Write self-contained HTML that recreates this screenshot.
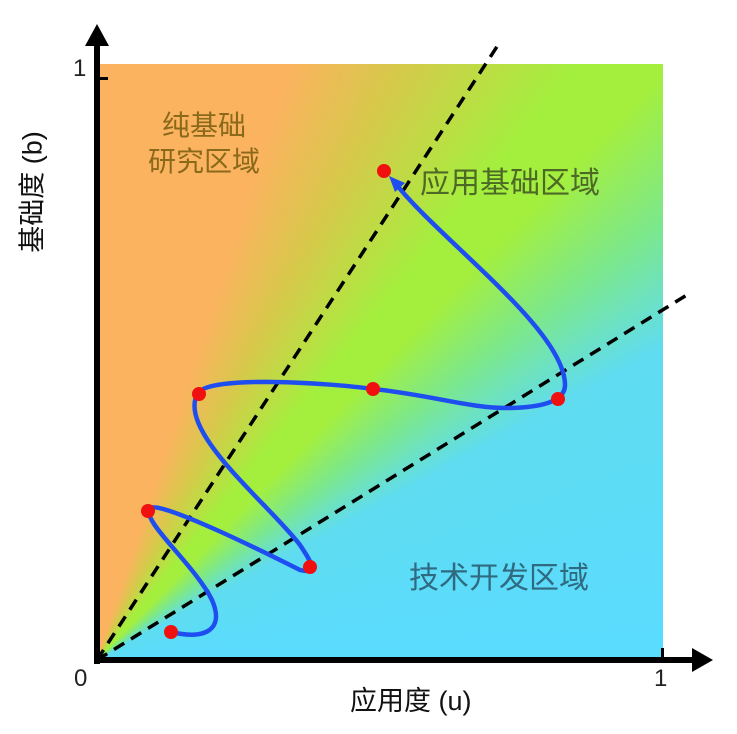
<!DOCTYPE html>
<html><head><meta charset="utf-8"><style>
body{margin:0;width:737px;height:734px;background:#fff;position:relative;overflow:hidden;font-family:"Liberation Sans","Noto Sans CJK SC",sans-serif}
#bg{position:absolute;left:97px;top:64px;width:566px;height:596px;
background:conic-gradient(from 0deg at 0px 596px,#fbb35f 0deg,#fbb35f 18deg,#d6c94a 27deg,#a4ef3e 39deg,#a4ef3e 44deg,#7de88a 52deg,#5fdcf0 61deg,#5adcff 90deg);}
.t{position:absolute;white-space:nowrap}
</style></head><body>
<div id="bg"></div>
<div class="t" style="left:162px;top:108px;font-size:28px;color:#8a6a1a;line-height:36px;">纯基础</div>
<div class="t" style="left:148px;top:144px;font-size:28px;color:#8a6a1a;line-height:36px;">研究区域</div>
<div class="t" style="left:420px;top:158px;font-size:30px;color:#4c6a26;">应用基础区域</div>
<div class="t" style="left:409px;top:553px;font-size:30px;color:#2f6a80;">技术开发区域</div>
<div class="t" style="left:73px;top:55px;font-size:24px;color:#222;">1</div>
<div class="t" style="left:74px;top:665px;font-size:24px;color:#222;">0</div>
<div class="t" style="left:654px;top:665px;font-size:24px;color:#222;">1</div>
<div class="t" style="left:350px;top:679px;font-size:27px;color:#111;">应用度 (u)</div>
<div class="t" style="left:30px;top:192px;font-size:27px;color:#111;transform:translate(-50%,-50%) rotate(-90deg);">基础度 (b)</div>
<svg width="737" height="734" style="position:absolute;left:0;top:0">
<line x1="97" y1="660" x2="500" y2="42" stroke="#000" stroke-width="3.5" stroke-dasharray="12,8"/>
<line x1="97" y1="660" x2="690" y2="293" stroke="#000" stroke-width="3.5" stroke-dasharray="12,8"/>
<path d="M171,632 C205,640 225,630 212,600 C195,565 140,520 150,508 C160,500 270,555 300,570 C320,575 310,560 300,545 C270,505 175,430 198,393 C210,375 330,383 373,389 C430,395 470,408 505,408 C540,408 565,402 565,385 C565,330 440,240 396,184" fill="none" stroke="#1f4ef0" stroke-width="4.5"/>
<polygon points="389,176 405,183 395,192" fill="#1f4ef0"/>
<g fill="#f01010">
<circle cx="171" cy="632" r="7"/><circle cx="310" cy="567" r="7"/><circle cx="148" cy="511" r="7"/>
<circle cx="199" cy="394" r="7"/><circle cx="373" cy="389" r="7"/><circle cx="558" cy="399" r="7"/><circle cx="384" cy="171" r="7"/>
</g>
<rect x="94" y="44" width="6" height="620" fill="#000"/>
<polygon points="97,24 85,46 109,46" fill="#000"/>
<rect x="94" y="657" width="600" height="6" fill="#000"/>
<polygon points="713,660 692,648 692,672" fill="#000"/>
<rect x="97" y="77" width="11" height="3" fill="#000"/>
<rect x="661" y="648" width="3" height="12" fill="#000"/>
</svg>
</body></html>
